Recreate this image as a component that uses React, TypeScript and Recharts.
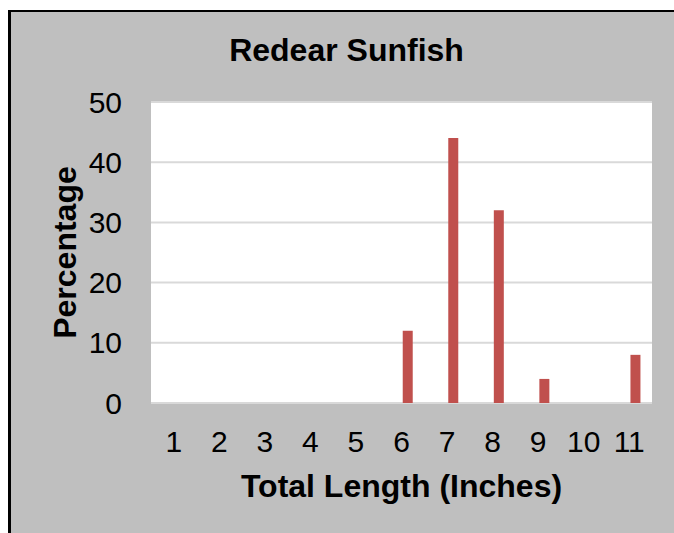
import { Bar, BarChart, CartesianGrid, Label, XAxis, YAxis } from "recharts";

const lengths = ["1", "2", "3", "4", "5", "6", "7", "8", "9", "10", "11"];
const percentages = [0, 0, 0, 0, 0, 12, 44, 32, 4, 0, 8];
// Excel leaves an empty slot ahead of the series, which nudges bars right of the tick
const emptySlot = [null, null, null, null, null, null, null, null, null, null, null];
const yTicks = [0, 10, 20, 30, 40, 50];

const FONT = "'Liberation Sans', Arial, Helvetica, sans-serif";

const data = lengths.map((len, i) => ({
  len,
  pct: percentages[i],
  blank: emptySlot[i],
}));

function YTitle(props: any) {
  const vb = props.viewBox;
  const x = vb.x + 54;
  const y = vb.y + vb.height / 2;
  return (
    <text
      x={x}
      y={y}
      transform={`rotate(-90, ${x}, ${y})`}
      textAnchor="middle"
      dominantBaseline="central"
      fontFamily={FONT}
      fontWeight="bold"
      fontSize={32}
      fill="#000"
    >
      Percentage
    </text>
  );
}

export default function App() {
  return (
    <div
      style={{
        position: "fixed",
        left: 8,
        top: 10,
        width: 690,
        height: 540,
        background: "#bfbfbf",
        borderTop: "2px solid #000",
        borderLeft: "3px solid #000",
        overflow: "hidden",
      }}
    >
      <div
        style={{
          position: "absolute",
          left: 0,
          top: 22,
          width: 671,
          textAlign: "center",
          fontFamily: FONT,
          fontWeight: "bold",
          fontSize: 32,
          lineHeight: "32px",
          color: "#000",
        }}
      >
        Redear Sunfish
      </div>
      <div style={{ position: "absolute", left: 0, top: 0 }}>
        <BarChart
          width={671}
          height={521}
          data={data}
          margin={{ top: 90, right: 30, bottom: 20, left: 0 }}
          barSize={10}
          barGap={3}
        >
          <CartesianGrid
            vertical={false}
            fill="#ffffff"
            stroke="#d9d9d9"
            strokeWidth={2}
          />
          <XAxis
            dataKey="len"
            interval={0}
            axisLine={false}
            tickLine={false}
            tickSize={0}
            tickMargin={28}
            height={110}
            tick={{ fill: "#000", fontSize: 30, fontFamily: FONT }}
          >
            <Label
              value="Total Length (Inches)"
              position="insideBottom"
              offset={16}
              style={{
                fill: "#000",
                fontSize: 32,
                fontWeight: "bold",
                fontFamily: FONT,
              }}
            />
          </XAxis>
          <YAxis
            domain={[0, 50]}
            ticks={yTicks}
            interval={0}
            width={140}
            axisLine={false}
            tickLine={false}
            tickSize={0}
            tickMargin={29}
            tick={{ fill: "#000", fontSize: 30, fontFamily: FONT }}
          >
            <Label content={YTitle} />
          </YAxis>
          <Bar dataKey="blank" fill="transparent" isAnimationActive={false} />
          <Bar dataKey="pct" fill="#c0504d" isAnimationActive={false} />
        </BarChart>
      </div>
    </div>
  );
}
